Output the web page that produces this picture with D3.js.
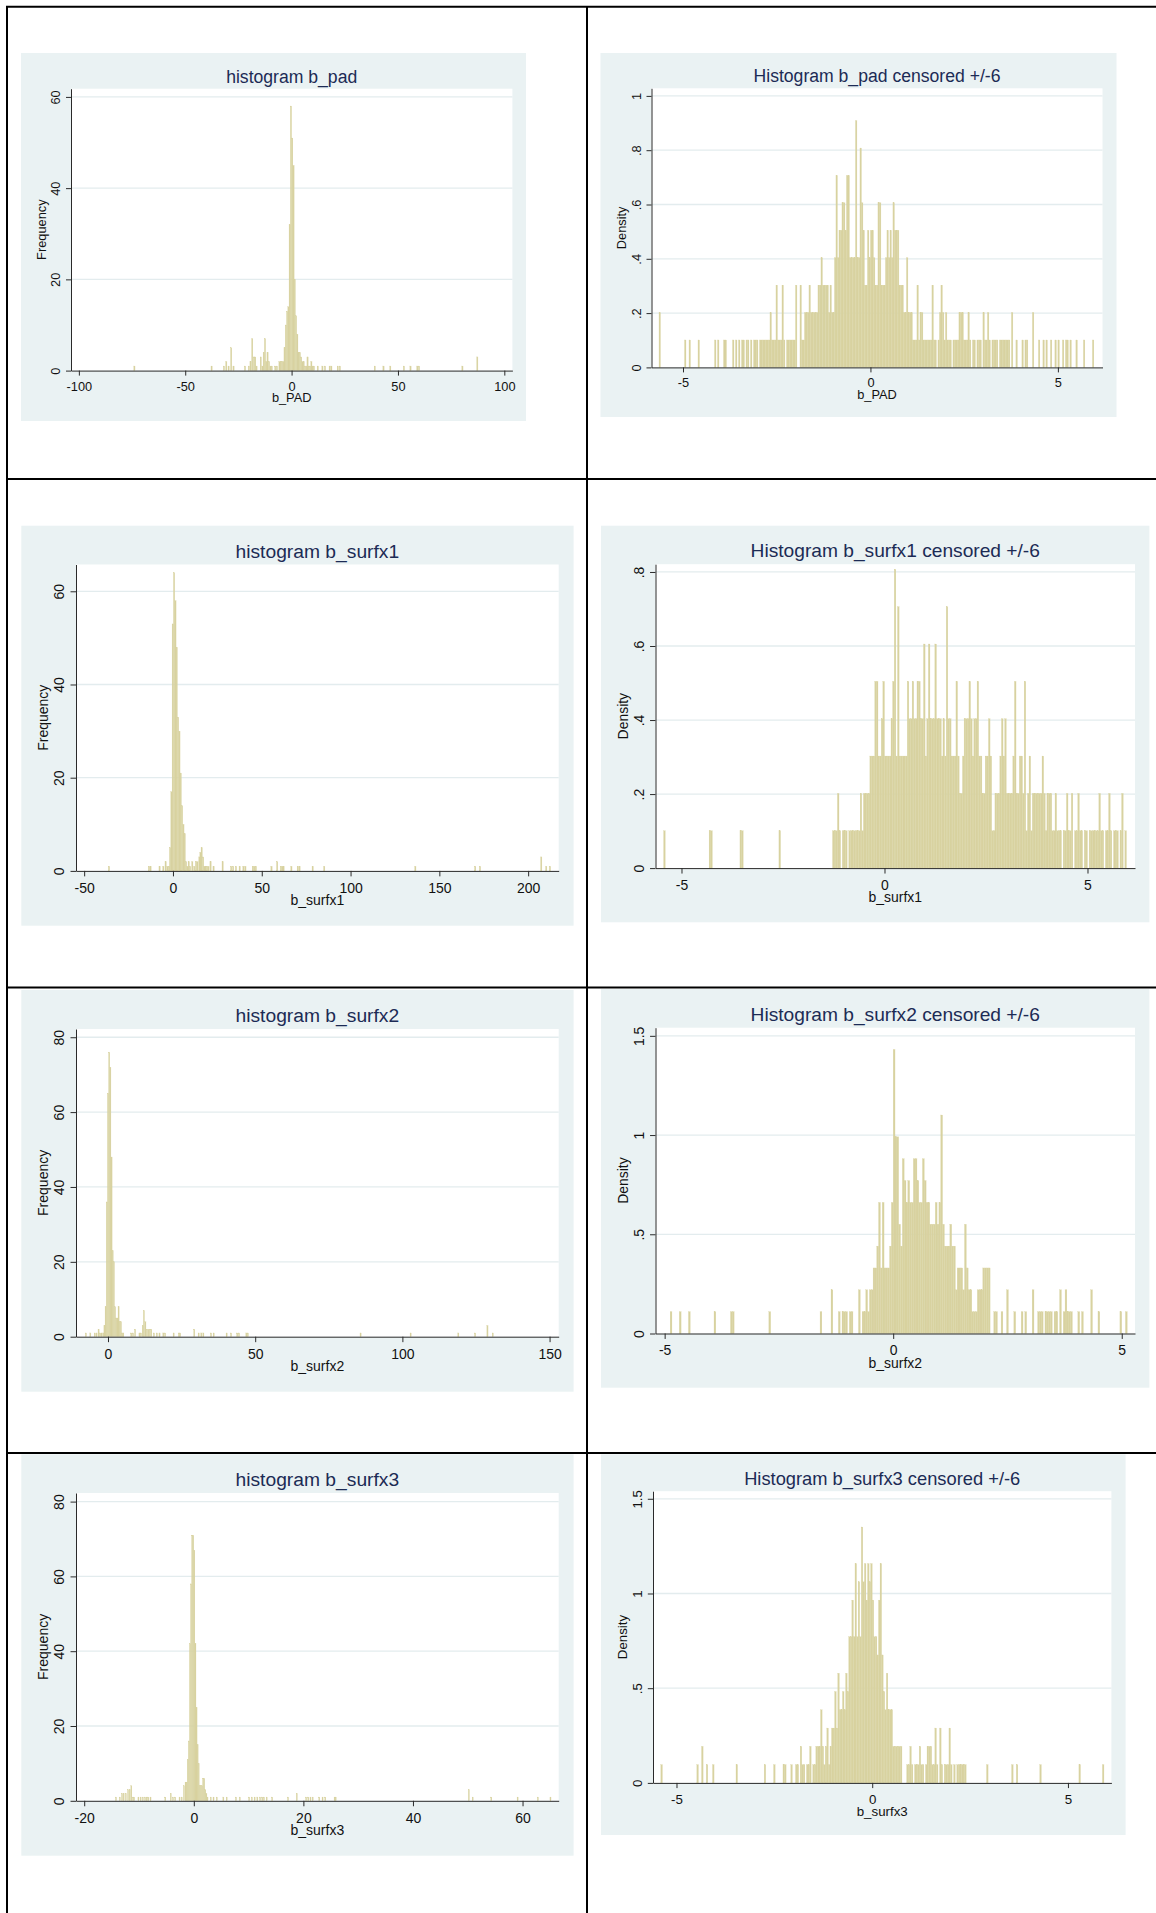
<!DOCTYPE html>
<html>
<head>
<meta charset="utf-8">
<script src="https://cdn.jsdelivr.net/npm/d3@7"></script>
<style>
  body { margin: 0; background: #fff; }
  svg { display: block; }
  text { font-family: "Liberation Sans", Arial, sans-serif; }
</style>
</head>
<body>
<svg id="chart" width="1156" height="1913"></svg>
<script>
// ---- data ----
// frequency histograms: [bin left edge, count]
const padBinW = 0.6;
const padBins = [[-74.2,1],[-37.9,1],[-32.1,1],[-31.0,2],[-29.9,1],[-28.7,5],[-27.6,1],[-22.2,1],[-20.4,1],[-19.6,2],
  [-18.8,7],[-18.0,3],[-17.4,3],[-16.8,1],[-14.8,3],[-14.0,1],[-13.4,4],[-12.8,7],[-12.2,2],[-11.6,4],[-10.9,2],[-10.2,1],
  [-9.6,1],[-8.0,1],[-7.2,1],[-6.0,2],[-5.4,2],[-4.8,2],[-4.2,2],[-3.6,5],[-3.0,10],[-2.4,13],[-1.8,14],[-1.2,32],[-0.6,58],
  [0.0,51],[0.6,45],[1.2,20],[1.8,12],[2.4,8],[3.0,4],[3.6,4],[4.2,3],[4.8,2],[5.4,2],[6.0,1],[6.6,1],[7.2,3],[7.8,1],
  [8.4,1],[9.0,2],[9.6,1],[10.2,1],[12.0,1],[14.2,1],[15.4,1],[17.6,1],[18.4,1],[21.4,1],[22.4,1],[38.8,1],[42.9,1],
  [46.1,1],[52.5,1],[55.6,1],[58.8,1],[59.6,1],[80.0,1],[87.0,3]];

const s1BinW = 0.75;
const s1Bins = [[-36.4,1],[-13.9,1],[-13.0,1],[-7.9,1],[-5.8,1],[-4.5,2],[-3.5,1],[-2.6,1],[-2.0,5],[-1.25,17],[-0.5,53],
  [0.25,64],[1.0,58],[1.75,48],[2.5,33],[3.25,30],[4.0,21],[4.75,14],[5.5,10],[6.25,8],[7.0,2],[7.75,1],[8.5,2],[9.25,1],
  [10.5,2],[11.6,1],[12.6,2],[13.4,2],[14.5,3],[15.1,4],[15.8,5],[16.6,3],[17.3,1],[18.0,1],[18.8,1],[19.6,1],[20.8,2],
  [22.5,1],[27.6,2],[32.4,1],[33.5,1],[35.1,1],[37.2,1],[39.3,1],[40.4,1],[44.6,1],[45.4,1],[46.3,1],[55.1,1],[58.3,2],
  [60.4,1],[61.2,1],[61.9,1],[66.3,1],[69.9,1],[70.9,1],[78.3,1],[84.8,1],[136.1,1],[169.8,1],[172.5,1],[207.0,3],
  [209.8,1],[211.9,1]];

const s2BinW = 0.4;
const s2Bins = [[-7.7,1],[-6.2,1],[-4.7,1],[-4.1,1],[-3.4,2],[-2.9,1],[-2.4,1],[-1.8,1],[-1.4,3],[-1.0,8],[-0.6,36],
  [-0.2,65],[0.2,76],[0.6,72],[1.0,48],[1.4,23],[1.8,20],[2.2,8],[2.6,5],[3.0,5],[3.4,8],[3.8,4],[4.2,4],[4.6,1],[5.0,1],
  [7.7,1],[8.3,1],[9.0,2],[10.5,1],[11.0,1],[11.6,3],[12.0,7],[12.5,4],[13.0,2],[13.5,2],[14.0,2],[14.5,2],[15.4,1],
  [16.4,1],[17.3,1],[18.6,1],[19.2,1],[22.1,1],[23.9,1],[24.3,1],[29.1,2],[30.6,1],[31.5,1],[32.2,1],[34.8,1],[35.7,1],
  [40.1,1],[41.6,1],[43.7,1],[44.3,1],[46.8,1],[47.3,1],[85.6,1],[102.6,1],[118.8,1],[124.5,1],[128.7,3],[130.5,1]];

const s3BinW = 0.2;
const s3Bins = [[-14.3,1],[-13.6,1],[-13.2,2],[-12.9,2],[-12.5,2],[-12.1,3],[-11.8,3],[-11.5,4],[-11.2,1],[-11.0,1],
  [-10.2,1],[-9.8,1],[-9.4,1],[-9.0,1],[-8.7,1],[-8.4,1],[-8.0,1],[-5.3,1],[-4.3,2],[-3.9,1],[-3.5,1],[-2.7,1],[-2.3,1],
  [-1.9,4],[-1.6,5],[-1.4,5],[-1.2,11],[-1.0,16],[-0.8,42],[-0.6,58],[-0.4,71],[-0.2,71],[0.0,67],[0.2,42],[0.4,25],
  [0.6,15],[0.8,10],[1.0,4],[1.2,4],[1.4,4],[1.6,6],[1.8,6],[2.0,3],[2.2,2],[2.4,1],[3.0,1],[3.5,1],[4.1,1],[5.3,1],
  [5.9,1],[7.6,1],[8.3,1],[10.0,1],[10.5,1],[11.0,1],[11.5,1],[12.0,1],[12.4,1],[12.7,1],[13.2,1],[14.2,1],[17.1,1],
  [18.7,2],[20.4,1],[20.8,1],[21.2,1],[21.6,1],[22.8,1],[23.4,1],[23.9,1],[25.6,1],[25.8,1],[50.1,3],[50.8,1],[54.2,1],
  [59.0,1],[62.7,1],[65.0,1]];

// censored histograms: counts per bin from -6 in steps of 0.04, and density per count
const censStart = -6;
const censBinW = 0.04;

const padCensUnit = 0.101;
const padCensCounts = [
  0,0,0,0,0,0,0,0,0,2, 0,0,0,0,0,0,0,0,0,0, 0,0,0,0,0,0,1,0,0,1, 0,0,0,0,0,1,0,0,0,0,
  0,0,0,0,0,0,1,0,1,0, 0,0,1,1,0,0,0,0,1,0, 1,0,1,0,1,1,0,1,1,0, 1,0,1,1,1,0,1,1,1,1,
  1,1,1,2,1,1,1,3,1,1, 1,3,1,0,1,1,1,1,1,1, 3,0,0,3,1,1,2,2,2,3, 2,2,2,2,2,3,3,4,3,3,
  3,3,2,3,2,2,4,7,4,5, 5,6,6,5,7,7,4,4,4,4, 9,4,4,8,6,5,3,3,5,4, 5,5,4,3,3,6,6,3,3,3,
  4,5,4,5,4,6,5,5,5,3, 3,3,2,2,4,2,2,2,1,1, 1,3,1,2,2,1,1,1,1,1, 1,3,1,1,0,1,2,3,2,1,
  2,1,1,1,0,1,1,1,1,2, 2,2,1,1,1,2,1,0,1,1, 0,1,1,1,0,2,1,1,2,1, 0,1,1,1,1,0,1,1,1,1,
  1,1,1,0,2,0,0,1,0,0, 0,1,0,1,1,0,0,0,2,0, 0,0,1,0,0,1,0,1,0,0, 1,0,0,1,0,1,0,0,1,0,
  1,1,0,1,0,0,0,1,0,0, 0,0,1,0,0,0,0,0,1,0];

const s1CensUnit = 0.1009;
const s1CensCounts = [
  0,0,0,0,0,0,0,0,0,0, 0,0,0,0,1,0,0,0,0,0, 0,0,0,0,0,0,0,0,0,0, 0,0,0,0,0,0,0,0,0,0,
  0,0,1,1,0,0,0,0,0,0, 0,0,0,0,0,0,0,0,0,0, 0,1,1,0,0,0,0,0,0,0, 0,0,0,0,0,0,0,0,0,0,
  0,0,0,0,0,1,0,0,0,0, 0,0,0,0,0,0,0,0,0,0, 0,0,0,0,0,0,0,0,0,0, 0,0,0,0,0,0,0,0,1,1,
  1,2,1,0,1,1,1,0,1,1, 1,1,1,1,1,2,1,2,2,2, 2,3,3,3,5,5,3,3,4,5, 3,3,3,3,4,5,8,3,7,3,
  3,3,3,3,5,4,4,5,4,4, 5,5,4,4,6,3,4,6,4,4, 4,6,4,4,4,3,4,3,7,4, 4,3,3,3,5,3,2,2,3,4,
  4,4,5,4,3,4,4,5,3,3, 2,2,3,3,4,3,1,1,2,2, 2,3,4,3,4,2,2,2,2,3, 5,2,2,3,3,2,5,1,2,3,
  1,2,2,2,2,2,2,3,2,1, 2,2,2,1,1,2,1,1,1,0, 1,1,2,1,1,2,0,1,1,2, 1,1,0,1,1,0,1,1,1,1,
  1,1,2,1,1,0,1,1,2,1, 0,1,1,1,0,1,2,0,1,0];

const s2CensUnit = 0.1101;
const s2CensCounts = [
  0,0,0,0,0,0,0,0,0,0, 0,0,0,0,0,0,0,0,0,0, 0,0,0,0,0,0,0,0,1,0, 0,0,0,1,0,0,0,0,1,0,
  0,0,0,0,0,0,0,0,0,0, 0,0,1,0,0,0,0,0,0,0, 0,1,1,0,0,0,0,0,0,0, 0,0,0,0,0,0,0,0,0,0,
  0,0,1,0,0,0,0,0,0,0, 0,0,0,0,0,0,0,0,0,0, 0,0,0,0,0,0,0,0,0,0, 1,0,0,0,0,0,2,0,0,0,
  1,0,1,1,1,0,1,1,0,0, 0,2,0,1,1,2,1,2,2,3, 3,4,6,3,6,3,3,3,4,6, 13,9,9,5,4,8,7,6,7,6,
  6,8,8,7,6,6,8,7,6,6, 5,5,5,6,5,6,10,5,4,4, 4,5,4,4,2,3,3,3,2,5, 3,2,2,1,1,1,2,2,2,3,
  3,3,3,0,0,1,1,0,0,1, 0,0,2,0,0,0,1,0,0,0, 1,0,1,0,0,0,2,0,0,1, 1,1,0,1,1,1,1,0,1,1,
  0,2,0,1,2,1,1,1,0,0, 0,1,0,1,0,0,0,0,2,0, 0,0,1,0,0,0,0,0,0,0, 0,0,0,0,1,0,0,1,0,0,
  0,0,0,0,0,0,0,0,0,0, 0,0,0,0,0,0,0,0,0,0];

const s3CensUnit = 0.0965;
const s3CensCounts = [
  0,0,0,0,0,0,0,0,0,0, 0,0,0,0,0,1,0,0,0,0, 0,0,0,0,0,0,0,0,0,0, 0,0,0,0,0,0,0,0,1,0,
  0,2,0,0,1,0,0,0,1,0, 0,0,0,0,0,0,0,0,0,0, 0,0,0,1,0,0,0,0,0,0, 0,0,0,0,0,0,0,0,0,0,
  0,1,0,0,0,0,0,1,0,0, 0,0,0,1,1,0,0,0,1,0, 0,1,1,0,2,1,1,0,1,1, 2,0,1,1,2,2,2,4,2,1,
  2,3,1,2,3,3,5,3,6,4, 4,5,4,6,5,8,8,10,8,12, 8,11,8,14,11,12,10,12,11,12, 10,8,8,7,10,12,7,5,4,6,
  4,4,4,2,2,2,2,2,2,0, 0,0,1,1,2,1,0,1,1,1, 2,1,1,0,1,2,2,2,1,1, 3,1,0,3,1,0,1,1,1,3,
  1,0,1,0,1,1,1,1,1,1, 0,0,0,0,0,0,0,0,0,0, 0,0,0,1,0,0,0,0,0,0, 0,0,0,0,0,0,0,0,0,1,
  0,0,1,0,0,0,0,0,0,0, 0,0,0,0,0,0,0,1,0,0, 0,0,0,0,0,0,0,0,0,0, 0,0,0,0,0,0,0,0,0,0,
  0,0,1,0,0,0,0,0,0,0, 0,0,0,0,0,0,0,1,0,0];

// tick values
const padXTicks = [-100, -50, 0, 50, 100];
const s1XTicks = [-50, 0, 50, 100, 150, 200];
const s2XTicks = [0, 50, 100, 150];
const s3XTicks = [-20, 0, 20, 40, 60];
const censXTicks = [-5, 0, 5];
const freqYTicks60 = [0, 20, 40, 60];
const freqYTicks80 = [0, 20, 40, 60, 80];
const padCensYTicks = [0, .2, .4, .6, .8, 1];
const s1CensYTicks = [0, .2, .4, .6, .8];
const halfYTicks = [0, .5, 1, 1.5];

// ---- helpers ----
const BAR = "#d8d2a0", BG = "#eaf2f3", GRID = "#e3ecee", AXIS = "#2a2a2a", TITLE = "#1c2b55", INK = "#111";
const fmt = v => String(+v.toFixed(2)).replace(/^(-?)0\./, "$1.");
const freqBars = (bins, w) => bins.map(([x0, n]) => ({ x0, x1: x0 + w, h: n }));
const densBars = (counts, unit) => counts
  .map((n, i) => ({ x0: censStart + i * censBinW, x1: censStart + (i + 1) * censBinW, h: n * unit }))
  .filter(d => d.h > 0);

// layout: bg = [x, y, w, h], plot = [left, top, right, bottom], s = text scale
const panels = [
  { title: "histogram b_pad", xLabel: "b_PAD", yLabel: "Frequency",
    bars: freqBars(padBins, padBinW), xTicks: padXTicks, yTicks: freqYTicks60,
    xDomain: [-103.7, 103.8], yMax: 61.8, bg: [21, 53, 505, 368], plot: [71, 88.7, 512.4, 370.6], s: 1 },
  { title: "Histogram b_pad censored +/-6", xLabel: "b_PAD", yLabel: "Density",
    bars: densBars(padCensCounts, padCensUnit), xTicks: censXTicks, yTicks: padCensYTicks,
    xDomain: [-5.84, 6.19], yMax: 1.028, bg: [600.5, 53, 516, 364], plot: [651.5, 88.3, 1102.5, 367.4], s: 1 },
  { title: "histogram b_surfx1", xLabel: "b_surfx1", yLabel: "Frequency",
    bars: freqBars(s1Bins, s1BinW), xTicks: s1XTicks, yTicks: freqYTicks60,
    xDomain: [-54.6, 217.2], yMax: 65.75, bg: [21.3, 525.7, 552.3, 400], plot: [76, 564.5, 558.7, 870.9], s: 1.094 },
  { title: "Histogram b_surfx1 censored +/-6", xLabel: "b_surfx1", yLabel: "Density",
    bars: densBars(s1CensCounts, s1CensUnit), xTicks: censXTicks, yTicks: s1CensYTicks,
    xDomain: [-5.64, 6.17], yMax: 0.821, bg: [601, 525.7, 548.4, 396.6], plot: [655.5, 564.2, 1135, 868.1], s: 1.09 },
  { title: "histogram b_surfx2", xLabel: "b_surfx2", yLabel: "Frequency",
    bars: freqBars(s2Bins, s2BinW), xTicks: s2XTicks, yTicks: freqYTicks80,
    xDomain: [-10.87, 153.1], yMax: 82.2, bg: [21.3, 990, 552.3, 401.7], plot: [76, 1029, 558.7, 1336.7], s: 1.094 },
  { title: "Histogram b_surfx2 censored +/-6", xLabel: "b_surfx2", yLabel: "Density",
    bars: densBars(s2CensCounts, s2CensUnit), xTicks: censXTicks, yTicks: halfYTicks,
    xDomain: [-5.2, 5.29], yMax: 1.541, bg: [601, 989, 548.4, 398.7], plot: [655.5, 1027.7, 1135, 1333.5], s: 1.09 },
  { title: "histogram b_surfx3", xLabel: "b_surfx3", yLabel: "Frequency",
    bars: freqBars(s3Bins, s3BinW), xTicks: s3XTicks, yTicks: freqYTicks80,
    xDomain: [-21.5, 66.6], yMax: 82.3, bg: [21.3, 1454.3, 552.3, 401.4], plot: [76, 1493, 558.7, 1800.8], s: 1.094 },
  { title: "Histogram b_surfx3 censored +/-6", xLabel: "b_surfx3", yLabel: "Density",
    bars: densBars(s3CensCounts, s3CensUnit), xTicks: censXTicks, yTicks: halfYTicks,
    xDomain: [-5.6, 6.11], yMax: 1.54, bg: [601, 1454.3, 524.6, 380.7], plot: [653, 1491.2, 1111.4, 1782.9], s: 1.04 }
];

const svg = d3.select("#chart");
svg.append("rect").attr("width", 1156).attr("height", 1913).attr("fill", "#fff");

function drawPanel(p) {
  const g = svg.append("g");
  const [l, t, r, b] = p.plot;
  const s = p.s;

  g.append("rect")
    .attr("x", p.bg[0]).attr("y", p.bg[1]).attr("width", p.bg[2]).attr("height", p.bg[3])
    .attr("fill", BG);
  g.append("rect")
    .attr("x", l).attr("y", t).attr("width", r - l).attr("height", b - t)
    .attr("fill", "#fff");

  const x = d3.scaleLinear().domain(p.xDomain).range([l, r]);
  const y = d3.scaleLinear().domain([0, p.yMax]).range([b, t]);

  // grid lines
  g.append("g").selectAll("line")
    .data(p.yTicks.filter(v => v > 0))
    .join("line")
    .attr("x1", l).attr("x2", r)
    .attr("y1", d => y(d)).attr("y2", d => y(d))
    .attr("stroke", GRID).attr("stroke-width", 1.3);

  // bars
  g.append("g").selectAll("rect")
    .data(p.bars)
    .join("rect")
    .attr("x", d => x(d.x0))
    .attr("width", d => x(d.x1) - x(d.x0))
    .attr("y", d => y(d.h))
    .attr("height", d => y(0) - y(d.h))
    .attr("fill", BAR)
    .attr("stroke", BAR)
    .attr("stroke-width", 0.25);

  // x axis
  const gx = g.append("g")
    .attr("transform", `translate(0,${b})`)
    .call(d3.axisBottom(x).tickValues(p.xTicks).tickFormat(fmt).tickSize(5 * s).tickSizeOuter(0));
  gx.select(".domain").attr("stroke", AXIS);
  gx.selectAll(".tick line").attr("stroke", AXIS);
  gx.selectAll(".tick text")
    .attr("y", 20 * s).attr("dy", 0)
    .attr("fill", INK).style("font-size", (12.8 * s) + "px")
    .style("font-family", "'Liberation Sans', Arial, sans-serif");

  // y axis with rotated labels
  const gy = g.append("g")
    .attr("transform", `translate(${l},0)`)
    .call(d3.axisLeft(y).tickValues(p.yTicks).tickFormat(fmt).tickSize(5 * s).tickSizeOuter(0));
  gy.select(".domain").attr("stroke", AXIS);
  gy.selectAll(".tick line").attr("stroke", AXIS);
  gy.selectAll(".tick text")
    .attr("transform", "rotate(-90)")
    .attr("x", 0).attr("y", -10.8 * s).attr("dy", 0)
    .attr("text-anchor", "middle")
    .attr("fill", INK).style("font-size", (12.8 * s) + "px")
    .style("font-family", "'Liberation Sans', Arial, sans-serif");

  // titles
  g.append("text")
    .attr("x", (l + r) / 2).attr("y", t - 6.2 * s)
    .attr("text-anchor", "middle")
    .attr("fill", TITLE).style("font-size", (17.6 * s) + "px")
    .text(p.title);
  g.append("text")
    .attr("x", (l + r) / 2).attr("y", b + 31.5 * s)
    .attr("text-anchor", "middle")
    .attr("fill", INK).style("font-size", (12.8 * s) + "px")
    .text(p.xLabel);
  g.append("text")
    .attr("transform", `translate(${l - 25.3 * s},${(t + b) / 2}) rotate(-90)`)
    .attr("text-anchor", "middle")
    .attr("fill", INK).style("font-size", (12.8 * s) + "px")
    .text(p.yLabel);
}

panels.forEach(drawPanel);

// table borders
const rules = svg.append("g").attr("stroke", "#000").attr("stroke-width", 2);
rules.append("line").attr("x1", 6).attr("x2", 1156).attr("y1", 6.8).attr("y2", 6.8);
rules.append("line").attr("x1", 7).attr("x2", 7).attr("y1", 6).attr("y2", 1913);
rules.append("line").attr("x1", 587).attr("x2", 587).attr("y1", 6).attr("y2", 1913);
[479, 987.5, 1453].forEach(yy =>
  rules.append("line").attr("x1", 6).attr("x2", 1156).attr("y1", yy).attr("y2", yy));
</script>
</body>
</html>
